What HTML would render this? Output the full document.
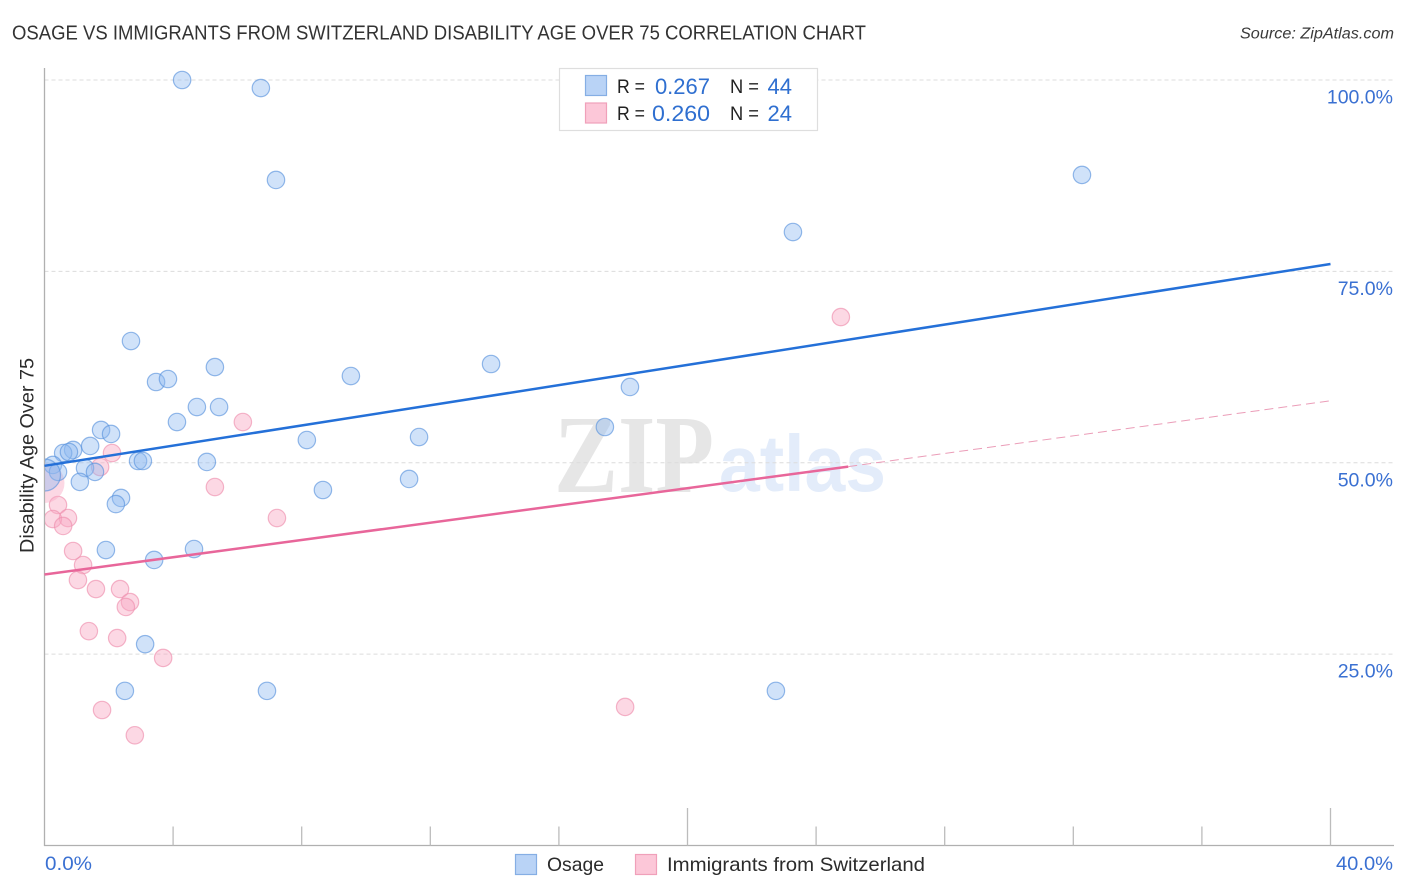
<!DOCTYPE html>
<html lang="en">
<head>
<meta charset="utf-8">
<title>Osage vs Immigrants from Switzerland Disability Age Over 75 Correlation Chart</title>
<style>
html,body{margin:0;padding:0;background:#fff;}
body{width:1406px;height:892px;overflow:hidden;font-family:"Liberation Sans",sans-serif;}
svg{display:block;}
text{font-family:"Liberation Sans",sans-serif;}
</style>
</head>
<body>
<svg id="chart" xmlns="http://www.w3.org/2000/svg" width="1406" height="892" viewBox="0 0 1406 892">
  <defs>
    <clipPath id="plot-clip"><rect x="45" y="60" width="1360" height="786"/></clipPath>
  </defs>
  <text x="12" y="39.5" font-size="20" fill="#333" textLength="854" lengthAdjust="spacingAndGlyphs">OSAGE VS IMMIGRANTS FROM SWITZERLAND DISABILITY AGE OVER 75 CORRELATION CHART</text>
  <text x="1394" y="38.5" font-size="15.5" font-style="italic" fill="#3a3a3a" text-anchor="end" textLength="154" lengthAdjust="spacingAndGlyphs">Source: ZipAtlas.com</text>

  <g>
    <text x="554" y="492" font-size="111" font-weight="bold" style="font-family:'Liberation Serif',serif" fill="#e6e6e6" textLength="160" lengthAdjust="spacingAndGlyphs">ZIP</text>
    <text x="719" y="491" font-size="80" font-weight="bold" fill="#e3ecfa" textLength="167" lengthAdjust="spacingAndGlyphs">atlas</text>
  </g>

  <g id="grid"></g>
  <g id="axes"></g>
  <g id="points" clip-path="url(#plot-clip)"></g>
  <g id="trends"></g>
  <g id="labels"></g>

  <text transform="translate(33.5,455.5) rotate(-90)" font-size="19" fill="#2b2b2b" text-anchor="middle" textLength="195" lengthAdjust="spacingAndGlyphs">Disability Age Over 75</text>

  <g>
    <rect x="559.5" y="68.5" width="258" height="62" fill="#fff" stroke="#dedede" stroke-width="1.2"/>
    <rect x="585.5" y="75.5" width="21" height="20" fill="#b9d3f6" stroke="#85aee4" stroke-width="1.2"/>
    <rect x="585.5" y="103" width="21" height="20" fill="#fcc7d8" stroke="#f0a0ba" stroke-width="1.2"/>
    <text x="617" y="93" font-size="19" fill="#222" textLength="28" lengthAdjust="spacingAndGlyphs">R =</text>
    <text x="710" y="94" font-size="22" fill="#2f6fd0" text-anchor="end">0.267</text>
    <text x="730" y="93" font-size="19" fill="#222" textLength="29" lengthAdjust="spacingAndGlyphs">N =</text>
    <text x="792" y="94" font-size="22" fill="#2f6fd0" text-anchor="end">44</text>
    <text x="617" y="120" font-size="19" fill="#222" textLength="28" lengthAdjust="spacingAndGlyphs">R =</text>
    <text x="710" y="121" font-size="22" fill="#2f6fd0" text-anchor="end" textLength="58" lengthAdjust="spacingAndGlyphs">0.260</text>
    <text x="730" y="120" font-size="19" fill="#222" textLength="29" lengthAdjust="spacingAndGlyphs">N =</text>
    <text x="792" y="121" font-size="22" fill="#2f6fd0" text-anchor="end">24</text>
  </g>

  <g>
    <rect x="515.5" y="854.5" width="21" height="20" fill="#b9d3f6" stroke="#85aee4" stroke-width="1.2"/>
    <text x="547" y="871" font-size="19.5" fill="#2b2b2b" textLength="57" lengthAdjust="spacingAndGlyphs">Osage</text>
    <rect x="635.5" y="854.5" width="21" height="20" fill="#fcc7d8" stroke="#f0a0ba" stroke-width="1.2"/>
    <text x="667" y="871" font-size="19.5" fill="#2b2b2b" textLength="258" lengthAdjust="spacingAndGlyphs">Immigrants from Switzerland</text>
  </g>
</svg>

<script>
// ---- data ----
const osageX = [4.28,6.73,7.2,32.27,23.28,2.69,5.3,3.47,3.84,9.53,13.89,18.21,4.74,5.43,4.12,17.43,1.76,2.07,11.65,8.16,1.42,0.89,0.58,0.76,2.91,3.06,5.05,0.26,1.26,1.57,0.42,1.1,11.34,8.66,2.38,2.22,1.91,4.65,3.41,3.13,2.5,6.92,22.75,0];
const osageY = [100,98.95,86.94,87.6,80.14,65.9,62.5,60.55,60.94,61.33,62.9,59.9,57.28,57.28,55.32,54.67,54.28,53.76,53.36,52.97,52.19,51.67,51.27,51.4,50.23,50.23,50.1,49.71,49.3,48.8,48.8,47.5,47.88,46.44,45.4,44.6,38.6,38.73,37.3,26.3,20.2,20.2,20.2,48.4];
const switzerlandX = [24.77,6.17,2.1,1.73,5.3,7.23,0.42,0.73,0.26,0.58,0.89,1.2,1.04,1.6,2.35,2.66,2.53,1.38,2.26,3.69,1.79,18.06,2.81,0];
const switzerlandY = [69.03,55.32,51.27,49.44,46.83,42.78,44.48,42.78,42.65,41.74,38.47,36.64,34.68,33.5,33.5,31.8,31.16,28.0,27.1,24.5,17.7,18.1,14.4,47.35];
const osageTrendX = [0,40];
const osageTrendY = [49.6,75.96];
const switzerlandTrendX = [0,25];
const switzerlandTrendY = [35.4,49.5];
const switzerlandForecastX = [25,40];
const switzerlandForecastY = [49.5,58.1];
const yTicks = [100,75,50,25];
const yTickLabels = ["100.0%","75.0%","50.0%","25.0%"];
const xTicks = [4,8,12,16,20,24,28,32,36,40];
const xMajorTicks = [20,40];
const xEndLabels = ["0.0%","40.0%"];

// ---- axis functions ----
function sx(v){ return 44.5 + v * 32.15; }
function sy(v){ return 845.5 - v * 7.655; }

const NS = "http://www.w3.org/2000/svg";
function make(tag, parentId, attrs){
  const el = document.createElementNS(NS, tag);
  for (const k in attrs) el.setAttribute(k, attrs[k]);
  document.getElementById(parentId).appendChild(el);
  return el;
}

// gridlines
yTicks.forEach(function(t){
  const el = make("line", "grid", {x1:44.5, x2:1394, y1:sy(t), y2:sy(t), stroke:"#dcdcdc", "stroke-width":1, "stroke-dasharray":"4 3"});
  
  
});

// axes
const yAxis = make("line", "axes", {x1:44.5, x2:44.5, y1:68, y2:846, stroke:"#b0b0b0", "stroke-width":1.3});


const xAxis = make("line", "axes", {x1:44, x2:1394, y1:845.5, y2:845.5, stroke:"#b0b0b0", "stroke-width":1.3});


xTicks.forEach(function(t){
  const top = xMajorTicks.indexOf(t) >= 0 ? 808 : 826.5;
  const el = make("line", "axes", {x1:sx(t), x2:sx(t), y1:top, y2:845.5, stroke:"#bcbcbc", "stroke-width":1.3});
  
  
});

// tick labels
yTicks.forEach(function(t, i){
  const el = make("text", "labels", {x:1393, y:sy(t)+23.5, "font-size":19.5, fill:"#3a70d2", "text-anchor":"end"});
  el.textContent = yTickLabels[i];
  
  
});
const x0Label = make("text", "labels", {x:45, y:870, "font-size":19.5, fill:"#3a70d2", textLength:47, lengthAdjust:"spacingAndGlyphs"});
x0Label.textContent = xEndLabels[0];


const x1Label = make("text", "labels", {x:1393, y:870, "font-size":19.5, fill:"#3a70d2", "text-anchor":"end", textLength:57, lengthAdjust:"spacingAndGlyphs"});
x1Label.textContent = xEndLabels[1];



// points
switzerlandX.forEach(function(v, i){
  const big = i === switzerlandX.length - 1;
  const el = make("circle", "points", {cx:sx(v), cy:sy(switzerlandY[i]), r:big ? 20 : 8.7, fill:"#f9a8c3", "fill-opacity":0.45, stroke:big ? "none" : "#ee8fae", "stroke-opacity":0.65, "stroke-width":1.2});
  
  
});
osageX.forEach(function(v, i){
  const big = i === osageX.length - 1;
  const el = make("circle", "points", {cx:sx(v), cy:sy(osageY[i]), r:big ? 16 : 8.7, fill:"#8fbaf0", "fill-opacity":0.42, stroke:"#5a93dd", "stroke-opacity":0.65, "stroke-width":1.2});
  
  
});

// trend lines
const t1 = make("line", "trends", {x1:sx(osageTrendX[0]), y1:sy(osageTrendY[0]), x2:sx(osageTrendX[1]), y2:sy(osageTrendY[1]), stroke:"#2470d8", "stroke-width":2.5});


const t2 = make("line", "trends", {x1:sx(switzerlandTrendX[0]), y1:sy(switzerlandTrendY[0]), x2:sx(switzerlandTrendX[1]), y2:sy(switzerlandTrendY[1]), stroke:"#e8669a", "stroke-width":2.5});


const t3 = make("line", "trends", {x1:sx(switzerlandForecastX[0]), y1:sy(switzerlandForecastY[0]), x2:sx(switzerlandForecastX[1]), y2:sy(switzerlandForecastY[1]), stroke:"#eb9db8", "stroke-width":1, "stroke-dasharray":"9 5"});


</script>
</body>
</html>
